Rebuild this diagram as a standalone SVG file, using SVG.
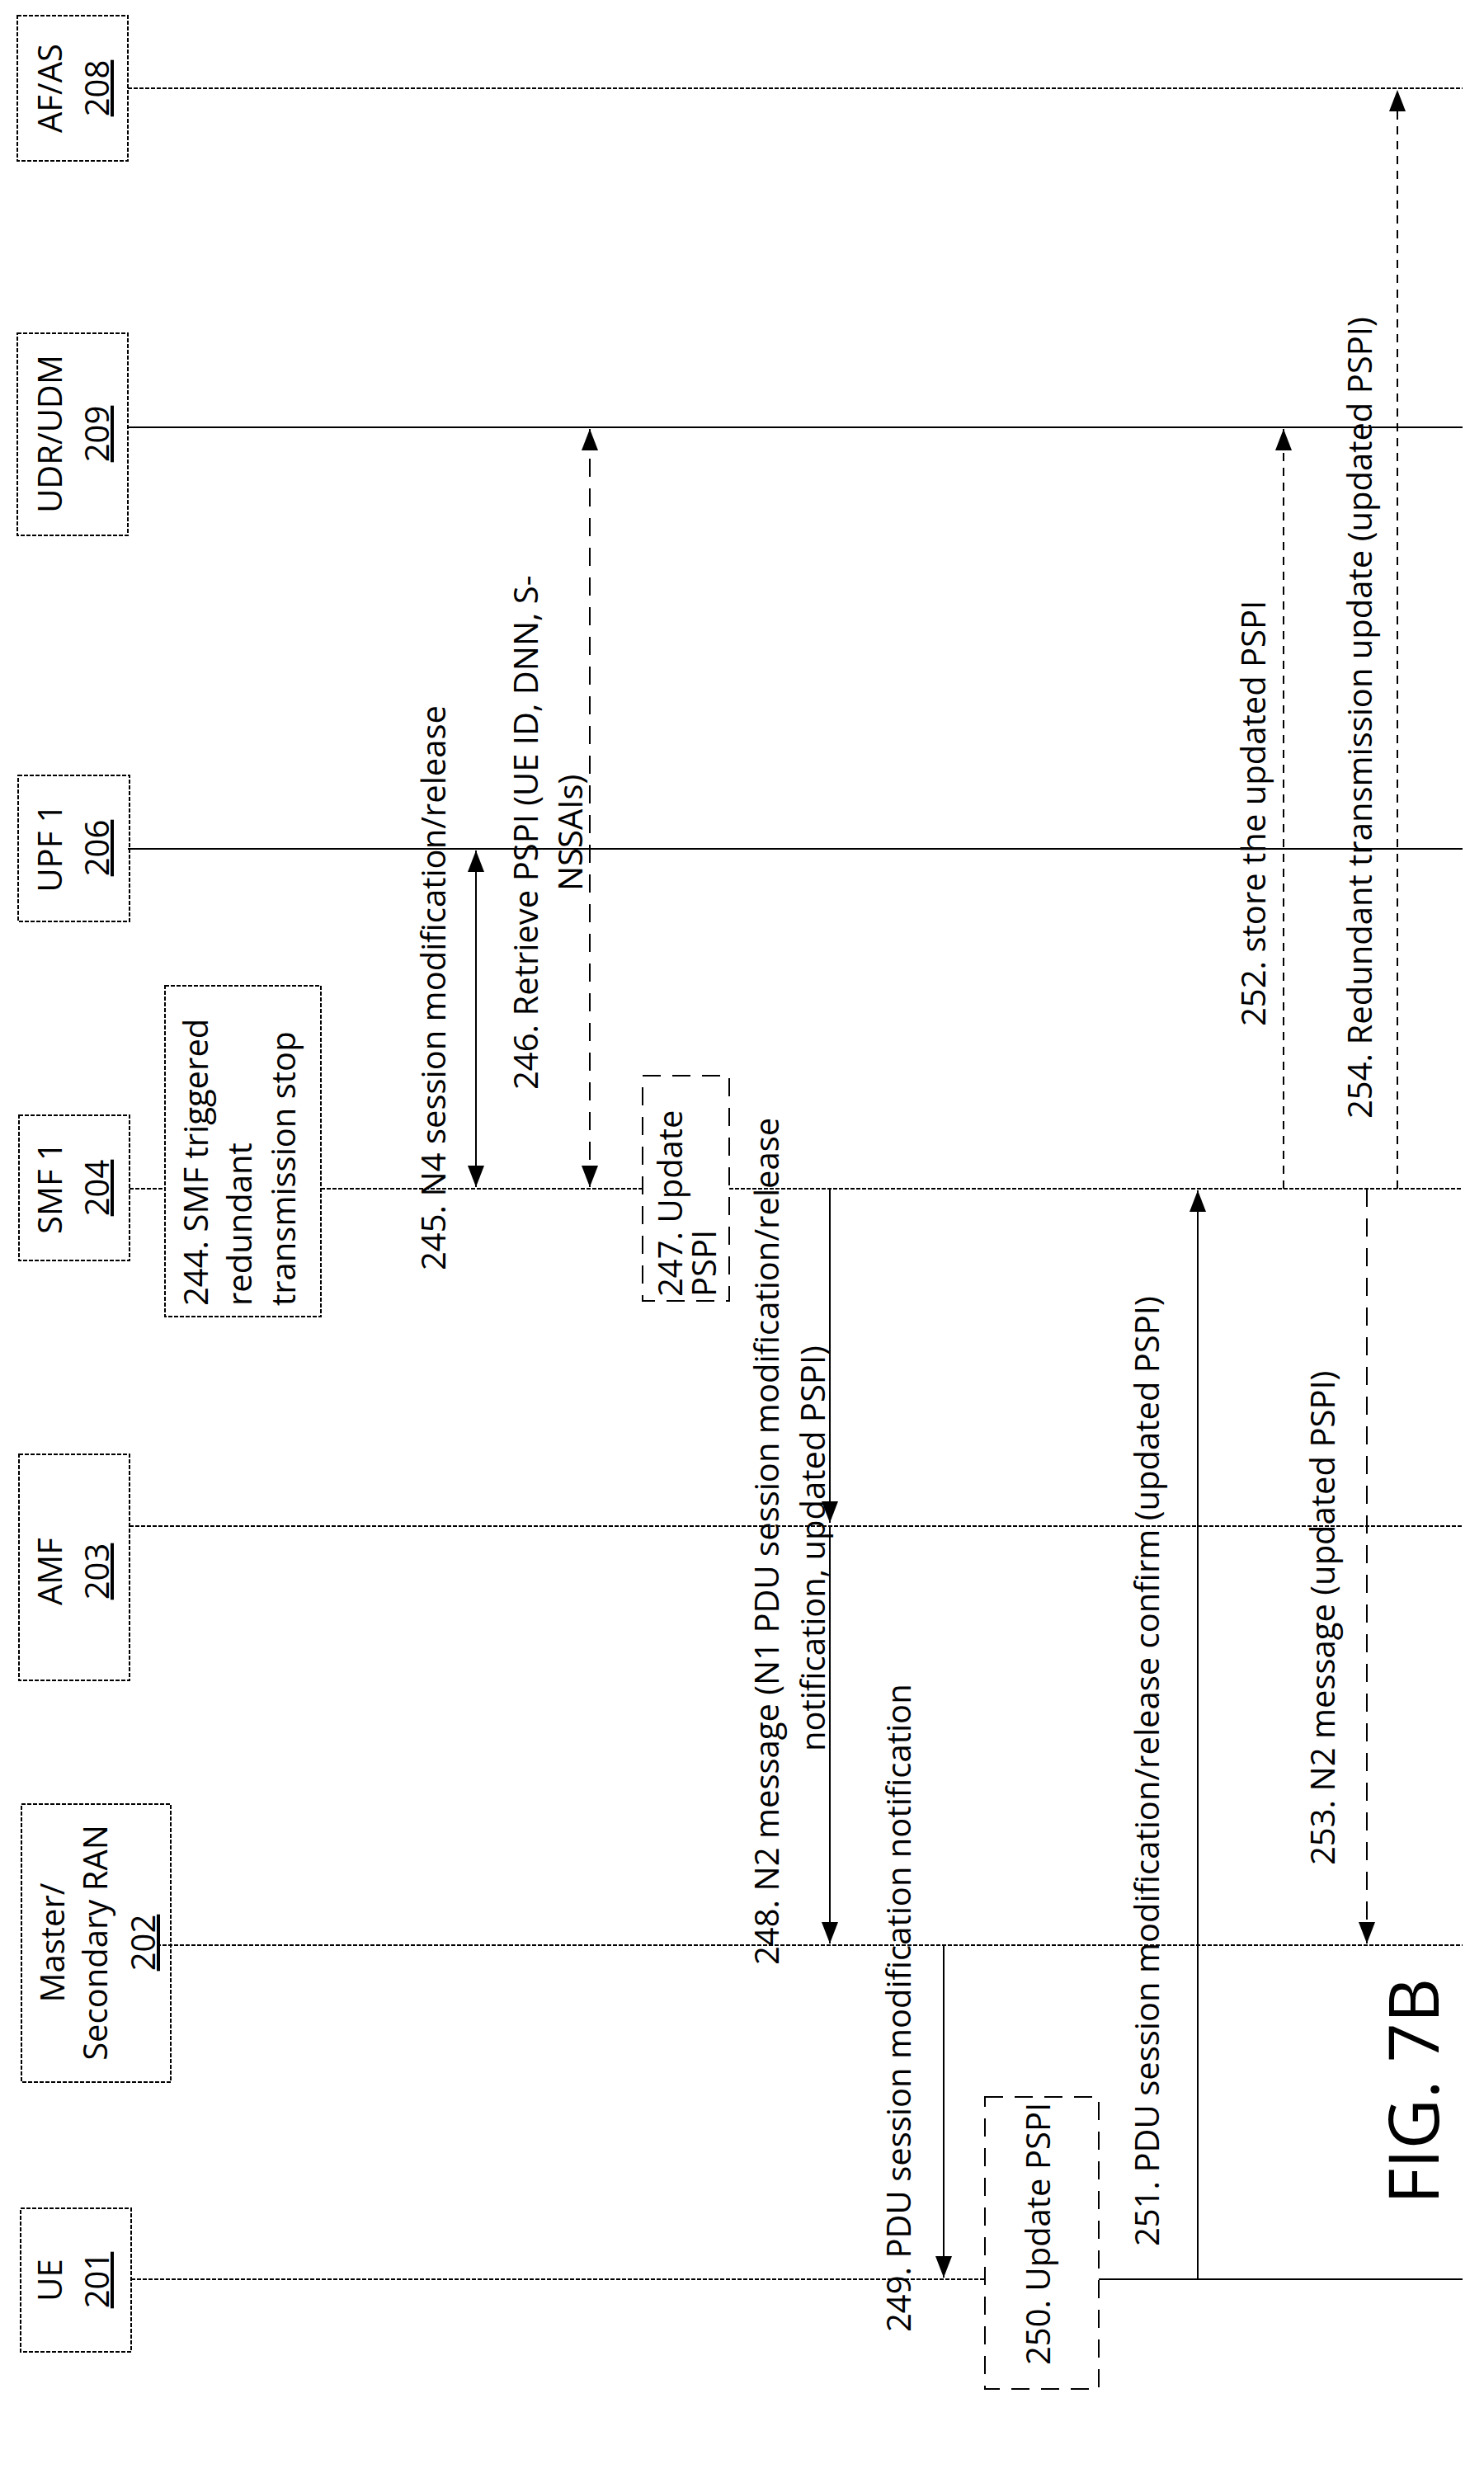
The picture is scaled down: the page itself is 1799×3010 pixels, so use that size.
<svg xmlns="http://www.w3.org/2000/svg" width="1799" height="3010" viewBox="0 0 1799 3010">
<style>
.box{fill:none;stroke:#000;stroke-width:2;stroke-dasharray:5 2}
.life{stroke:#000;stroke-width:2;fill:none}
.dot{stroke-dasharray:5 2}
.t{font-family:"Open Sans","Liberation Sans",sans-serif;font-size:40px;fill:#000}
.u{text-decoration:underline}
.msg{stroke:#000;stroke-width:2;fill:none}
.dash{stroke-dasharray:22 14}
.sdash{stroke-dasharray:10 8}
</style>
<defs>
<marker id="ah" viewBox="0 0 10 10" refX="10" refY="5" markerWidth="26" markerHeight="20" markerUnits="userSpaceOnUse" orient="auto-start-reverse" preserveAspectRatio="none">
<path d="M0,0 L10,5 L0,10 z" fill="#000"/>
</marker>
</defs>
<rect width="1799" height="3010" fill="#fff"/>
<g id="lifelines">
<line class="life dot" x1="155" y1="107" x2="1773" y2="107"/>
<line class="life" x1="155" y1="518" x2="1773" y2="518"/>
<line class="life" x1="155" y1="1029" x2="1773" y2="1029"/>
<line class="life dot" x1="157" y1="1441" x2="200" y2="1441"/>
<line class="life dot" x1="389" y1="1441" x2="779" y2="1441"/>
<line class="life dot" x1="884" y1="1441" x2="1773" y2="1441"/>
<line class="life dot" x1="157" y1="1850" x2="1773" y2="1850"/>
<line class="life dot" x1="190" y1="2358" x2="1773" y2="2358"/>
<line class="life dot" x1="159" y1="2763" x2="1194" y2="2763"/>
<line class="life" x1="1332" y1="2763" x2="1773" y2="2763"/>
</g>
<g id="n208"><rect class="box" x="21" y="19" width="134" height="176"/>
<g transform="translate(75,107) rotate(-90)"><text class="t" text-anchor="middle">AF/AS</text></g>
<g transform="translate(132,107) rotate(-90)"><text class="t u" text-anchor="middle">208</text></g></g>
<g id="n209"><rect class="box" x="21" y="404" width="134" height="245"/>
<g transform="translate(75,526) rotate(-90)"><text class="t" text-anchor="middle">UDR/UDM</text></g>
<g transform="translate(132,526) rotate(-90)"><text class="t u" text-anchor="middle">209</text></g></g>
<g id="n206"><rect class="box" x="22" y="940" width="135" height="177"/>
<g transform="translate(75,1028) rotate(-90)"><text class="t" text-anchor="middle">UPF 1</text></g>
<g transform="translate(132,1028) rotate(-90)"><text class="t u" text-anchor="middle">206</text></g></g>
<g id="n204"><rect class="box" x="23" y="1352" width="134" height="176"/>
<g transform="translate(75,1440) rotate(-90)"><text class="t" text-anchor="middle">SMF 1</text></g>
<g transform="translate(132,1440) rotate(-90)"><text class="t u" text-anchor="middle">204</text></g></g>
<g id="n203"><rect class="box" x="23" y="1763" width="134" height="274"/>
<g transform="translate(75,1905) rotate(-90)"><text class="t" text-anchor="middle">AMF</text></g>
<g transform="translate(132,1905) rotate(-90)"><text class="t u" text-anchor="middle">203</text></g></g>
<g id="n202"><rect class="box" x="26" y="2187" width="181" height="337"/>
<g transform="translate(78,2355) rotate(-90)"><text class="t" text-anchor="middle">Master/</text></g>
<g transform="translate(130,2355) rotate(-90)"><text class="t" text-anchor="middle">Secondary RAN</text></g>
<g transform="translate(188,2355) rotate(-90)"><text class="t u" text-anchor="middle">202</text></g></g>
<g id="n201"><rect class="box" x="25" y="2677" width="134" height="174"/>
<g transform="translate(75,2764) rotate(-90)"><text class="t" text-anchor="middle">UE</text></g>
<g transform="translate(132,2764) rotate(-90)"><text class="t u" text-anchor="middle">201</text></g></g>
<g id="s244"><rect class="box" x="200" y="1195" width="189" height="401"/>
<g transform="translate(252,1583) rotate(-90)"><text class="t">244. SMF triggered</text></g>
<g transform="translate(305,1583) rotate(-90)"><text class="t">redundant</text></g>
<g transform="translate(358,1583) rotate(-90)"><text class="t">transmission stop</text></g></g>
<g id="s247"><rect class="box" x="779" y="1304" width="105" height="273" style="stroke-dasharray:22 14"/>
<g transform="translate(827,1572) rotate(-90)"><text class="t">247. Update</text></g>
<g transform="translate(868,1572) rotate(-90)"><text class="t">PSPI</text></g></g>
<g id="s250"><rect class="box" x="1194" y="2542" width="138" height="354" style="stroke-dasharray:22 14"/>
<g transform="translate(1273,2867) rotate(-90)"><text class="t">250. Update PSPI</text></g></g>
<g id="connectors">
<line class="msg" x1="577" y1="1031" x2="577" y2="1439" marker-start="url(#ah)" marker-end="url(#ah)"/>
<line class="msg dash" x1="715" y1="520" x2="715" y2="1439" marker-start="url(#ah)" marker-end="url(#ah)"/>
<line class="msg" x1="1006" y1="1441" x2="1006" y2="1846" marker-end="url(#ah)"/>
<line class="msg" x1="1006" y1="1850" x2="1006" y2="2356" marker-end="url(#ah)"/>
<line class="msg" x1="1144" y1="2358" x2="1144" y2="2761" marker-end="url(#ah)"/>
<line class="msg" x1="1452" y1="2763" x2="1452" y2="1443" marker-end="url(#ah)"/>
<line class="msg sdash" x1="1556" y1="1441" x2="1556" y2="520" marker-end="url(#ah)"/>
<line class="msg dash" x1="1657" y1="1441" x2="1657" y2="2356" marker-end="url(#ah)"/>
<line class="msg sdash" x1="1694" y1="1441" x2="1694" y2="109" marker-end="url(#ah)"/>
</g>
<g id="labels">
<g transform="translate(540,1540) rotate(-90)"><text class="t">245. N4 session modification/release</text></g>
<g transform="translate(652,1321) rotate(-90)"><text class="t">246. Retrieve PSPI (UE ID, DNN, S-</text></g>
<g transform="translate(706,1080) rotate(-90)"><text class="t">NSSAIs)</text></g>
<g transform="translate(944,2382) rotate(-90)"><text class="t">248. N2 message (N1 PDU session modification/release</text></g>
<g transform="translate(1000,2123) rotate(-90)"><text class="t">notification, updated PSPI)</text></g>
<g transform="translate(1104,2827) rotate(-90)"><text class="t">249. PDU session modification notification</text></g>
<g transform="translate(1405,2723) rotate(-90)"><text class="t">251. PDU session modification/release confirm (updated PSPI)</text></g>
<g transform="translate(1534,1244) rotate(-90)"><text class="t">252. store the updated PSPI</text></g>
<g transform="translate(1618,2261) rotate(-90)"><text class="t">253. N2 message (updated PSPI)</text></g>
<g transform="translate(1663,1356) rotate(-90)"><text class="t">254. Redundant transmission update (updated PSPI)</text></g>
<g transform="translate(1744,2672) rotate(-90)"><text class="t" style="font-size:84px">FIG. 7B</text></g>
</g>
</svg>
